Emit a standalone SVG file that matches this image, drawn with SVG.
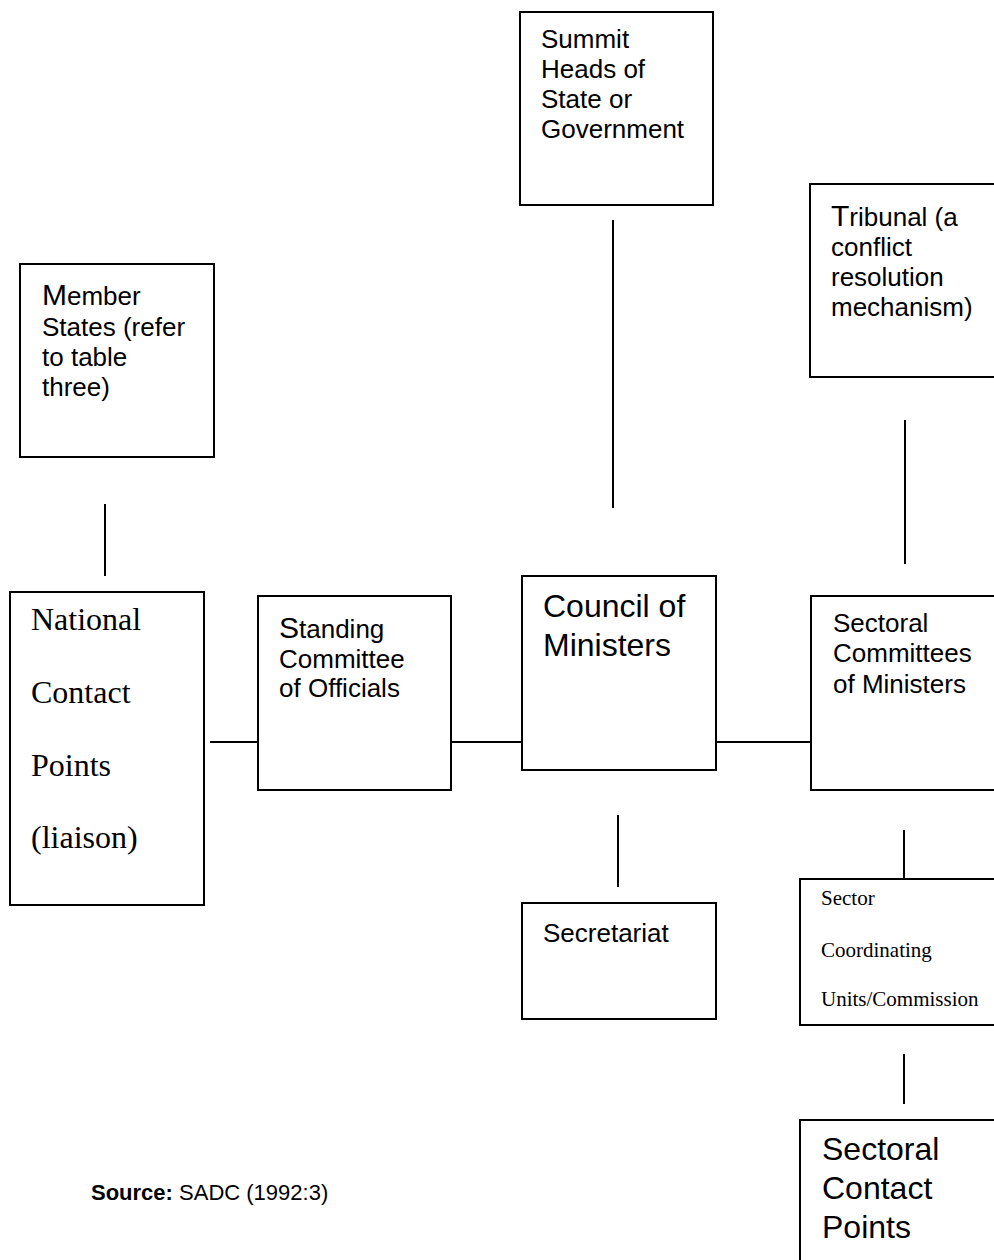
<svg xmlns="http://www.w3.org/2000/svg" width="994" height="1260" viewBox="0 0 994 1260">
<style>
.box{fill:#fff;stroke:#000;stroke-width:2}
.ln{stroke:#000;stroke-width:2;fill:none}
.s{font-family:"Liberation Sans",Arial,sans-serif;font-size:26px;fill:#000}
.cap{font-size:30px}
.r{font-family:"Liberation Serif","Times New Roman",serif;fill:#000}
.nat{font-size:32px}
.coord{font-size:21px}
.council{font-size:32px}
.contact{font-size:32px}
.src{font-size:22px}
</style>
<rect width="994" height="1260" fill="#fff"/>
<g id="connectors">
<line class="ln" x1="105" y1="504" x2="105" y2="576"/>
<line class="ln" x1="613" y1="220" x2="613" y2="508"/>
<line class="ln" x1="905" y1="420" x2="905" y2="564"/>
<line class="ln" x1="210" y1="742" x2="258" y2="742"/>
<line class="ln" x1="451" y1="742" x2="522" y2="742"/>
<line class="ln" x1="714" y1="742" x2="811" y2="742"/>
<line class="ln" x1="618" y1="815" x2="618" y2="887"/>
<line class="ln" x1="904" y1="830" x2="904" y2="879"/>
<line class="ln" x1="904" y1="1054" x2="904" y2="1104"/>
</g>
<g id="summit">
<rect class="box" x="520" y="12" width="193" height="193"/>
<text class="s"><tspan x="541" y="48">Summit</tspan><tspan x="541" y="78">Heads of</tspan><tspan x="541" y="108">State or</tspan><tspan x="541" y="138">Government</tspan></text>
</g>
<g id="tribunal">
<rect class="box" x="810" y="184" width="200" height="193"/>
<text class="s"><tspan x="831" y="226"><tspan class="cap">T</tspan>ribunal (a</tspan><tspan x="831" y="256">conflict</tspan><tspan x="831" y="286">resolution</tspan><tspan x="831" y="316">mechanism)</tspan></text>
</g>
<g id="member-states">
<rect class="box" x="20" y="264" width="194" height="193"/>
<text class="s"><tspan x="42" y="305"><tspan class="cap">M</tspan>ember</tspan><tspan x="42" y="336">States (refer</tspan><tspan x="42" y="366">to table</tspan><tspan x="42" y="396">three)</tspan></text>
</g>
<g id="national">
<rect class="box" x="10" y="592" width="194" height="313"/>
<text class="r nat"><tspan x="31" y="630">National</tspan><tspan x="31" y="703">Contact</tspan><tspan x="31" y="776">Points</tspan><tspan x="31" y="848">(liaison)</tspan></text>
</g>
<g id="standing">
<rect class="box" x="258" y="596" width="193" height="194"/>
<text class="s"><tspan x="279" y="638"><tspan class="cap">S</tspan>tanding</tspan><tspan x="279" y="668">Committee</tspan><tspan x="279" y="697">of Officials</tspan></text>
</g>
<g id="council">
<rect class="box" x="522" y="576" width="194" height="194"/>
<text class="s council"><tspan x="543" y="617">Council of</tspan><tspan x="543" y="656">Ministers</tspan></text>
</g>
<g id="sectoral-committees">
<rect class="box" x="811" y="596" width="200" height="194"/>
<text class="s"><tspan x="833" y="632">Sectoral</tspan><tspan x="833" y="662">Committees</tspan><tspan x="833" y="693">of Ministers</tspan></text>
</g>
<g id="secretariat">
<rect class="box" x="522" y="903" width="194" height="116"/>
<text class="s" x="543" y="942">Secretariat</text>
</g>
<g id="sector-coordinating">
<rect class="box" x="800" y="879" width="210" height="146"/>
<text class="r coord"><tspan x="821" y="905">Sector</tspan><tspan x="821" y="957">Coordinating</tspan><tspan x="821" y="1006">Units/Commission</tspan></text>
</g>
<g id="sectoral-contact">
<rect class="box" x="800" y="1120" width="210" height="160"/>
<text class="s contact"><tspan x="822" y="1160">Sectoral</tspan><tspan x="822" y="1199">Contact</tspan><tspan x="822" y="1238">Points</tspan></text>
</g>
<g id="source">
<text class="s src" x="91" y="1200"><tspan font-weight="bold">Source:</tspan> SADC (1992:3)</text>
</g>
</svg>
